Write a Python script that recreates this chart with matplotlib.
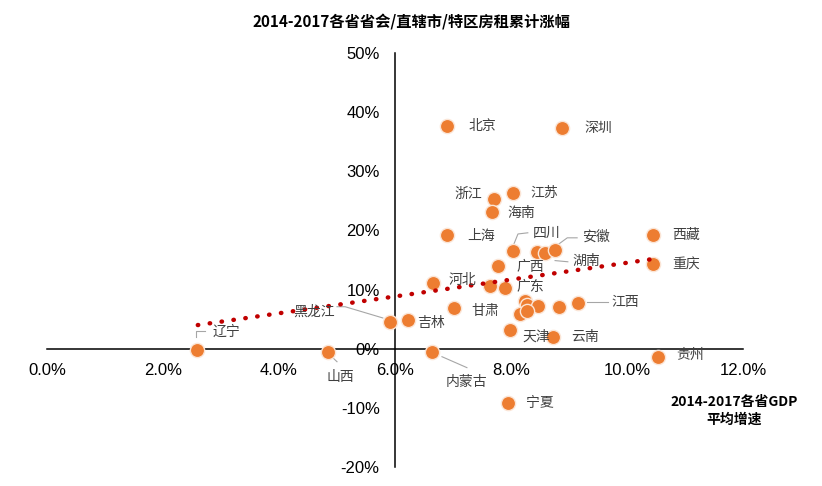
import matplotlib
matplotlib.use('Agg')
import matplotlib.pyplot as plt
from matplotlib.ticker import FuncFormatter

# GDP 平均增速 (%) 与 房租累计涨幅 (%)
names = ['北京', '深圳', '浙江', '江苏', '海南', '上海', '西藏', '四川', '',
         '湖南', '安徽', '广西', '重庆', '河北', '', '广东', '甘肃', '吉林',
         '黑龙江', '', '', '', '', '', '', '江西', '天津', '云南', '贵州',
         '内蒙古', '山西', '辽宁', '宁夏']
gdp_growth = [6.90, 8.88, 7.71, 8.03, 7.67, 6.90, 10.45, 8.03, 8.45,
              8.59, 8.76, 7.78, 10.45, 6.66, 7.64, 7.90, 7.02, 6.22,
              5.91, 8.24, 8.28, 8.47, 8.16, 8.28, 8.83, 9.16, 7.98, 8.72, 10.53,
              6.64, 4.84, 2.59, 7.95]
rent_growth = [37.7, 37.3, 25.3, 26.4, 23.1, 19.3, 19.3, 16.6, 16.4,
               16.2, 16.7, 14.0, 14.4, 11.1, 10.6, 10.3, 6.8, 4.9,
               4.6, 8.1, 7.4, 7.3, 5.9, 6.3, 7.1, 7.8, 3.2, 2.0, -1.4,
               -0.5, -0.5, -0.2, -9.1]

# linear trend line end points
trend_x = [2.6, 10.4]
trend_y = [4.0, 15.1]

# label text positions (data units)
label_pos = {
    '北京': (7.50, 37.7), '深圳': (9.50, 37.3), '浙江': (7.26, 26.2),
    '江苏': (8.57, 26.4), '海南': (8.17, 23.0), '上海': (7.48, 19.1),
    '四川': (8.62, 19.6), '安徽': (9.47, 18.9), '西藏': (11.02, 19.3),
    '广西': (8.33, 13.9), '湖南': (9.29, 14.9), '重庆': (11.02, 14.2),
    '河北': (7.16, 11.7), '广东': (8.33, 10.5), '甘肃': (7.55, 6.4),
    '江西': (9.97, 7.9), '吉林': (6.62, 4.4), '黑龙江': (4.60, 6.25),
    '天津': (8.43, 2.0), '云南': (9.28, 2.0), '贵州': (11.09, -1.0),
    '内蒙古': (7.24, -5.6), '山西': (5.05, -4.7), '辽宁': (3.09, 2.9),
    '宁夏': (8.50, -9.1),
}

# leader lines
leaders = [
    [(5.0, 7.1), (5.14, 7.1), (5.79, 5.2)],
    [(2.57, 1.9), (2.57, 3.0), (2.72, 3.0)],
    [(4.91, -1.35), (5.0, -2.2)],
    [(6.81, -1.35), (7.24, -3.2)],
    [(8.05, 17.7), (8.12, 19.4), (8.29, 19.6)],
    [(8.81, 17.6), (8.97, 18.75), (9.14, 18.75)],
    [(8.76, 14.9), (8.98, 14.7)],
    [(9.31, 7.9), (9.67, 7.9)],
]

cjk = ['Noto Sans CJK SC', 'DejaVu Sans']

fig = plt.figure(figsize=(8.22, 4.86), dpi=100)
ax = fig.add_axes([47 / 822, 1 - 467 / 486, 696 / 822, 414 / 486])
ax.set_xlim(0, 12)
ax.set_ylim(-20, 50)

ax.scatter(gdp_growth, rent_growth, s=105, color='#ED7D31',
           edgecolors='#FBE5D6', linewidths=1.0, zorder=3)

ax.plot(trend_x, trend_y, color='#C00000', lw=3.2, dashes=(0.1, 2.6),
        dash_capstyle='round', zorder=4)

for pts in leaders:
    ax.plot([p[0] for p in pts], [p[1] for p in pts], color='#A6A6A6',
            lw=0.8, zorder=2)

for name, (lx, ly) in label_pos.items():
    ax.text(lx, ly, name, ha='center', va='center', fontsize=10,
            color='#404040', family=cjk, zorder=5)

for side in ['top', 'right']:
    ax.spines[side].set_visible(False)
ax.spines['left'].set_position(('data', 6))
ax.spines['bottom'].set_position(('data', 0))
ax.spines['left'].set_linewidth(1.1)
ax.spines['bottom'].set_linewidth(1.1)

ax.set_xticks([0, 2, 4, 6, 8, 10, 12])
ax.set_yticks([-20, -10, 0, 10, 20, 30, 40, 50])
ax.xaxis.set_major_formatter(FuncFormatter(lambda v, p: '%.1f%%' % v))
ax.yaxis.set_major_formatter(FuncFormatter(lambda v, p: '%d%%' % v))
ax.tick_params(axis='both', length=0, labelsize=12, labelcolor='#000000')
ax.tick_params(axis='x', pad=10)
ax.tick_params(axis='y', pad=11)
for t in ax.get_xticklabels() + ax.get_yticklabels():
    t.set_family('Liberation Sans')

fig.text(0.5, 1 - 22 / 486, '2014-2017各省省会/直辖市/特区房租累计涨幅',
         ha='center', va='center', fontsize=11, fontweight='bold', family=cjk)
fig.text(734 / 822, 1 - 411 / 486, '2014-2017各省GDP\n平均增速',
         ha='center', va='center', fontsize=10, fontweight='bold',
         family=cjk, linespacing=1.3)

plt.savefig('out.png', dpi=100)
